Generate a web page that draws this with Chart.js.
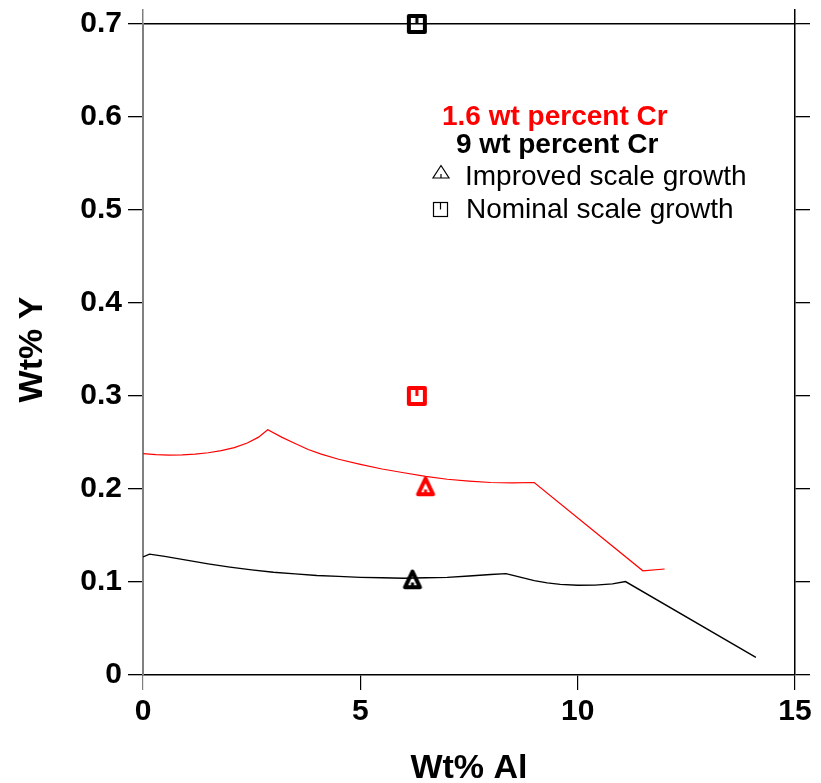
<!DOCTYPE html>
<html>
<head>
    <title>Wt% Y vs Wt% Al</title>
    <script src="https://cdn.jsdelivr.net/npm/chart.js"></script>
    <style>
        body { margin: 0; background: #fff; }
    </style>
</head>
<body>
    <canvas id="alChart" width="821" height="783"></canvas>
    <script>
        // tick values / labels
        const xTicks = [0, 5, 10, 15];
        const yTicks = [0, 0.1, 0.2, 0.3, 0.4, 0.5, 0.6, 0.7];
        const yTickLabels = ['0', '0.1', '0.2', '0.3', '0.4', '0.5', '0.6', '0.7'];

        // 1.6 wt percent Cr curve (red)
        const redAl = [0, 0.3, 0.6, 0.9, 1.2, 1.5, 1.8, 2.1, 2.4, 2.65, 2.87, 3.2, 3.5, 3.8, 4.1, 4.5, 5.0, 5.5, 6.0, 6.5, 7.0, 7.5, 8.0, 8.5, 9.0, 11.5, 12.0];
        const redY  = [0.238, 0.237, 0.2365, 0.2367, 0.2375, 0.239, 0.2412, 0.2445, 0.2495, 0.2555, 0.2637, 0.2555, 0.249, 0.2425, 0.2375, 0.232, 0.2265, 0.2215, 0.2175, 0.2135, 0.2105, 0.2085, 0.207, 0.2065, 0.207, 0.112, 0.114];

        // 9 wt percent Cr curve (black)
        const blackAl = [0, 0.15, 0.5, 1.0, 1.5, 2.0, 2.5, 3.0, 3.5, 4.0, 4.5, 5.0, 5.5, 6.0, 6.5, 7.0, 7.5, 8.0, 8.35, 8.7, 9.0, 9.3, 9.6, 10.0, 10.4, 10.8, 11.1, 14.1];
        const blackY  = [0.127, 0.130, 0.1275, 0.1235, 0.1195, 0.116, 0.113, 0.1105, 0.1087, 0.107, 0.106, 0.105, 0.1045, 0.104, 0.1045, 0.105, 0.1065, 0.108, 0.109, 0.105, 0.1015, 0.099, 0.0975, 0.0965, 0.0966, 0.098, 0.1005, 0.019];

        // measured points: improved (triangle) and nominal (square) scale growth
        const improvedRedAl = [6.5],  improvedRedY = [0.2];
        const improvedBlackAl = [6.2], improvedBlackY = [0.1];
        const nominalRedAl = [6.3],  nominalRedY = [0.3];
        const nominalBlackAl = [6.3], nominalBlackY = [0.7];

        const toXY = (xs, ys) => xs.map((x, i) => ({ x: x, y: ys[i] }));
        const FONT = '"Liberation Sans", Arial, Helvetica, sans-serif';
        const GRAY = '#808080';

        // marker images
        function squareMarker(color) {
            const c = document.createElement('canvas');
            c.width = 24; c.height = 24;
            const g = c.getContext('2d');
            g.strokeStyle = color; g.fillStyle = color;
            g.lineWidth = 4; g.lineJoin = 'round';
            g.strokeRect(4, 4, 16, 16);
            g.fillRect(10.5, 4, 3, 8);
            return c;
        }
        function triangleMarker(color) {
            const c = document.createElement('canvas');
            c.width = 30; c.height = 30;
            const g = c.getContext('2d');
            g.strokeStyle = color; g.fillStyle = color;
            g.lineWidth = 4; g.lineJoin = 'round';
            g.beginPath();
            g.moveTo(15, 4.5);
            g.lineTo(22.5, 20.3);
            g.lineTo(7.5, 20.3);
            g.closePath();
            g.stroke();
            g.fillRect(13.5, 15.5, 3, 5);
            return c;
        }

        const legendPlugin = {
            id: 'textLegend',
            afterDraw(chart) {
                const ctx = chart.ctx;
                ctx.save();
                ctx.textBaseline = 'alphabetic';
                ctx.textAlign = 'left';
                ctx.font = 'bold 28px ' + FONT;
                ctx.fillStyle = '#ff0000';
                ctx.fillText('1.6 wt percent Cr', 442, 125);
                ctx.fillStyle = '#000';
                ctx.fillText('9 wt percent Cr', 456, 153);
                ctx.font = '28px ' + FONT;
                ctx.fillText('Improved scale growth', 465, 185);
                ctx.fillText('Nominal scale growth', 466, 218);

                // legend symbols
                ctx.strokeStyle = '#000';
                ctx.lineWidth = 1.2;
                ctx.beginPath();
                ctx.moveTo(441, 165.5);
                ctx.lineTo(449, 178);
                ctx.lineTo(433, 178);
                ctx.closePath();
                ctx.stroke();
                ctx.beginPath();
                ctx.moveTo(441, 178);
                ctx.lineTo(441, 174);
                ctx.stroke();

                ctx.strokeRect(433.5, 202.5, 14, 14);
                ctx.beginPath();
                ctx.moveTo(440.5, 202.5);
                ctx.lineTo(440.5, 209.5);
                ctx.stroke();
                ctx.restore();
            }
        };

        const ctx = document.getElementById('alChart').getContext('2d');
        const alChart = new Chart(ctx, {
            type: 'scatter',
            data: {
                datasets: [
                    {
                        label: '1.6 wt percent Cr',
                        data: toXY(redAl, redY),
                        showLine: true,
                        borderColor: '#ff0000',
                        borderWidth: 1.2,
                        pointRadius: 0,
                        tension: 0
                    },
                    {
                        label: '9 wt percent Cr',
                        data: toXY(blackAl, blackY),
                        showLine: true,
                        borderColor: '#000000',
                        borderWidth: 1.4,
                        pointRadius: 0,
                        tension: 0
                    },
                    {
                        label: 'Improved 1.6 Cr',
                        data: toXY(improvedRedAl, improvedRedY),
                        pointStyle: triangleMarker('#ff0000'),
                        clip: false
                    },
                    {
                        label: 'Improved 9 Cr',
                        data: toXY(improvedBlackAl, improvedBlackY),
                        pointStyle: triangleMarker('#000000'),
                        clip: false
                    },
                    {
                        label: 'Nominal 1.6 Cr',
                        data: toXY(nominalRedAl, nominalRedY),
                        pointStyle: squareMarker('#ff0000'),
                        clip: false
                    },
                    {
                        label: 'Nominal 9 Cr',
                        data: toXY(nominalBlackAl, nominalBlackY),
                        pointStyle: squareMarker('#000000'),
                        clip: false
                    }
                ]
            },
            options: {
                responsive: false,
                animation: false,
                layout: { padding: 0 },
                plugins: {
                    legend: { display: false },
                    tooltip: { enabled: false }
                },
                scales: {
                    x: {
                        type: 'linear',
                        position: 'bottom',
                        min: 0, max: 15,
                        afterBuildTicks: s => { s.ticks = xTicks.map(v => ({ value: v })); },
                        afterFit: s => { s.height = 108; },
                        grid: {
                            drawOnChartArea: false,
                            tickLength: 15,
                            lineWidth: 1.2,
                            tickColor: c => (c.tick && c.tick.value === 0 ? GRAY : '#000')
                        },
                        border: { display: true, color: '#000', width: 1.5 },
                        ticks: {
                            color: '#000',
                            padding: 4,
                            maxRotation: 0,
                            font: { family: FONT, size: 30, weight: 'bold' },
                            callback: v => String(v)
                        },
                        title: {
                            display: true,
                            text: 'Wt% Al',
                            color: '#000',
                            padding: { top: 0, bottom: 0 },
                            font: { family: FONT, size: 34, weight: 'bold', lineHeight: 0.85 }
                        }
                    },
                    x2: {
                        type: 'linear',
                        position: 'top',
                        min: 0, max: 15,
                        afterBuildTicks: s => { s.ticks = [{ value: 0 }, { value: 15 }]; },
                        afterFit: s => { s.height = 22; },
                        grid: {
                            drawOnChartArea: false,
                            tickLength: 15,
                            lineWidth: 1.5,
                            tickColor: c => (c.tick && c.tick.value === 0 ? GRAY : '#000')
                        },
                        border: { display: true, color: '#000', width: 1.5 },
                        ticks: { display: false }
                    },
                    y: {
                        type: 'linear',
                        position: 'left',
                        min: 0, max: 0.7,
                        afterBuildTicks: s => { s.ticks = yTicks.map(v => ({ value: v })); },
                        afterFit: s => { s.width = 143; },
                        grid: {
                            drawOnChartArea: false,
                            tickLength: 15,
                            lineWidth: 1.3,
                            tickColor: '#000'
                        },
                        border: { display: true, color: GRAY, width: 2 },
                        ticks: {
                            color: '#000',
                            padding: 6,
                            font: { family: FONT, size: 30, weight: 'bold' },
                            callback: (v, i) => yTickLabels[i]
                        },
                        title: {
                            display: true,
                            text: 'Wt% Y',
                            color: '#000',
                            padding: { top: 12, bottom: 0 },
                            font: { family: FONT, size: 34, weight: 'bold', lineHeight: 1.2 }
                        }
                    },
                    y2: {
                        type: 'linear',
                        position: 'right',
                        min: 0, max: 0.7,
                        afterBuildTicks: s => { s.ticks = yTicks.map(v => ({ value: v })); },
                        afterFit: s => { s.width = 26; },
                        grid: {
                            drawOnChartArea: false,
                            tickLength: 15,
                            lineWidth: 1.3,
                            tickColor: '#000'
                        },
                        border: { display: true, color: '#000', width: 1.5 },
                        ticks: { display: false }
                    }
                }
            },
            plugins: [legendPlugin]
        });
    </script>
</body>
</html>
